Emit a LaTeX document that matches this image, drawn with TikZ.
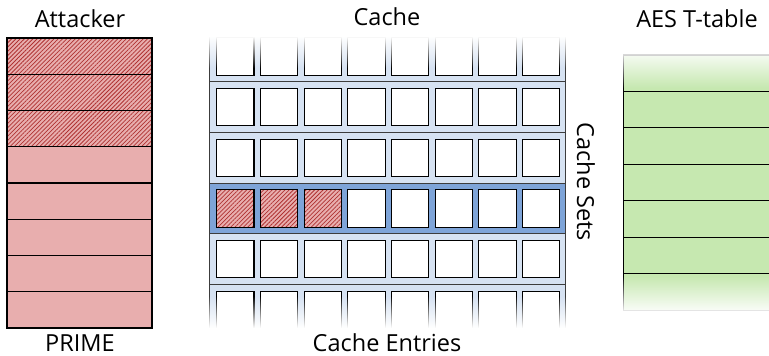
\documentclass[tikz,border=0pt]{standalone}
\usepackage{fontspec}
\setmainfont{Open Sans}
\usetikzlibrary{patterns.meta,fadings}
\definecolor{atkpink}{RGB}{232,174,174}
\definecolor{hatchred}{RGB}{175,50,50}
\definecolor{setblue}{RGB}{214,226,242}
\definecolor{hiblue}{RGB}{126,164,216}
\definecolor{tgreen}{RGB}{198,232,176}
\definecolor{sepgray}{RGB}{60,60,60}
\tikzfading[name=fadeup, top color=transparent!0, bottom color=transparent!100]
\tikzfading[name=fadedown, top color=transparent!100, bottom color=transparent!0]
\tikzset{
  lbl/.style={font=\fontsize{23.5}{27}\selectfont, text=black, inner sep=0pt},
  atkrow/.style={fill=atkpink, draw=black, line width=1.1pt},
  hatch/.style={pattern={Lines[angle=45,distance=3pt,line width=0.75pt]}, pattern color=hatchred},
  entry/.style={fill=white, draw=black, line width=1.1pt},
  sepline/.style={draw=sepgray, line width=0.9pt},
  tline/.style={draw=black, line width=1.1pt},
}
\begin{document}
\begin{tikzpicture}[x=1pt,y=-1pt]
\useasboundingbox (0,0) rectangle (769,356);
% Attacker
\foreach \i in {0,...,7}{
  \path[atkrow] (7,{38+\i*36.25}) rectangle (152,{38+(\i+1)*36.25});
}
\foreach \i in {0,1,2}{
  \path[hatch] (7,{38+\i*36.25}) rectangle (152,{38+(\i+1)*36.25});
  \draw[line width=1.1pt] (7,{38+\i*36.25}) rectangle (152,{38+(\i+1)*36.25});
}
% Cache
\fill[setblue] (209,36) rectangle (565,328);
\fill[hiblue] (209,183.2) rectangle (565,233.8);
\foreach \yy in {81.8,132.5,183.2,233.8,284.5}{
  \draw[sepline] (209,\yy) -- (565,\yy);
}
\draw[sepline] (209,36) -- (209,328);
\draw[sepline] (565,36) -- (565,328);
\foreach \j in {0,...,5}{
  \foreach \k in {0,...,7}{
    \path[entry] ({216.7+\k*43.7},{56.5+\j*50.65-18.7}) rectangle ++(37.3,37.4);
  }
}
\foreach \k in {0,1,2}{
  \fill[atkpink] ({216.7+\k*43.7},{56.5+3*50.65-18.7}) rectangle ++(37.3,37.4);
  \path[hatch] ({216.7+\k*43.7},{56.5+3*50.65-18.7}) rectangle ++(37.3,37.4);
  \draw[line width=1.1pt] ({216.7+\k*43.7},{56.5+3*50.65-18.7}) rectangle ++(37.3,37.4);
}
\fill[white, path fading=fadeup] (204,36) rectangle (570,68);
\fill[white] (204,30) rectangle (570,36.5);
\fill[white, path fading=fadedown] (204,296) rectangle (570,328);
\fill[white] (204,327.5) rectangle (570,333);
% AES T-table
\fill[tgreen] (623.3,55) rectangle (775,310);
\foreach \i in {0,...,7}{
  \draw[tline] (623.3,{55+\i*36.45}) -- (775,{55+\i*36.45});
}
\draw[tline] (623.3,55) -- (623.3,310);
\fill[white, path fading=fadeup] (618,48) rectangle (775,88);
\fill[white, path fading=fadedown] (618,276) rectangle (775,314);
\fill[white] (618,313.5) rectangle (775,320);
% Labels
\node[lbl] (attacker) at (80,19) {Attacker};
\node[lbl] (cache) at (387,17) {Cache};
\node[lbl] (aes) at (697,19) {AES T-table};
\node[lbl] (prime) at (80,343) {PRIME};
\node[lbl] (entries) at (387,343) {Cache Entries};
\node[lbl, rotate=-90] (sets) at (586,182) {Cache Sets};
\end{tikzpicture}
\end{document}
